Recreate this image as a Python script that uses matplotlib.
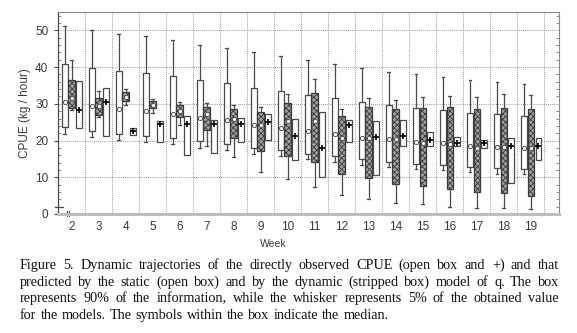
"""
Box plots of CPUE per week: observed vs static and dynamic q models.
"""

import matplotlib
matplotlib.use("Agg")
import matplotlib.pyplot as plt

# ---------------------------------------------------------
# Data
# ---------------------------------------------------------

weeks = [2, 3, 4, 5, 6, 7, 8, 9, 10, 11, 12, 13, 14, 15, 16, 17, 18, 19]

# static model (open box): whisker low, box low, median, box high, whisker high
static_wlo = [21.7, 21.0, 20.2, 19.6, 19.0, 18.1, 17.3, 16.4, 15.7, 15.0, 14.2, 13.3, 12.8, 12.2, 11.9, 11.3, 10.9, 10.8]
static_q1 = [23.7, 22.6, 21.7, 21.3, 20.8, 19.9, 19.0, 18.1, 17.3, 16.4, 15.7, 15.0, 14.2, 13.7, 13.3, 12.8, 12.6, 12.2]
static_med = [30.5, 29.4, 28.5, 28.1, 27.2, 26.1, 25.7, 24.3, 23.5, 22.6, 21.7, 20.8, 20.3, 19.5, 19.2, 18.4, 18.2, 17.9]
static_q3 = [40.9, 39.8, 39.0, 38.4, 37.6, 36.5, 35.7, 34.3, 33.5, 32.5, 31.6, 30.5, 29.7, 28.8, 28.3, 27.6, 27.2, 26.8]
static_whi = [51.1, 50.0, 49.1, 48.4, 47.4, 46.0, 45.3, 44.0, 42.9, 41.8, 40.9, 39.8, 38.7, 38.0, 37.4, 36.5, 35.9, 35.4]

# dynamic model (striped box)
dyn_wlo = [28.3, 26.5, 29.7, 27.6, 24.3, 18.4, 15.5, 11.5, 9.5, 7.3, 5.3, 4.0, 3.0, 2.6, 2.0, 1.5, 1.5, 1.3]
dyn_q1 = [28.8, 27.0, 30.7, 28.8, 26.3, 22.8, 20.6, 17.2, 15.7, 14.1, 10.9, 9.7, 8.2, 7.5, 6.8, 6.0, 5.6, 4.9]
dyn_med = [31.5, 29.5, 31.8, 29.7, 28.0, 27.2, 26.0, 24.3, 25.2, 25.4, 20.8, 20.8, 20.3, 19.3, 19.0, 18.1, 18.2, 17.9]
dyn_q3 = [36.5, 31.6, 33.2, 30.7, 29.7, 29.0, 28.5, 27.9, 30.3, 33.0, 26.8, 29.0, 28.5, 28.8, 29.0, 28.6, 28.8, 28.6]
dyn_whi = [42.0, 33.4, 34.0, 31.2, 30.5, 30.1, 29.6, 29.0, 32.7, 36.8, 28.5, 31.6, 31.0, 31.9, 32.1, 31.9, 32.7, 32.3]

# directly observed CPUE (open box and +)
obs_q1 = [23.4, 21.2, 21.5, 19.5, 16.2, 16.6, 19.5, 20.1, 14.6, 10.2, 19.5, 10.6, 18.6, 18.6, 18.4, 17.9, 8.4, 14.8]
obs_med = [28.3, 30.5, 22.6, 24.6, 24.6, 24.6, 24.6, 25.0, 21.2, 17.9, 24.3, 21.0, 21.2, 20.1, 19.3, 19.3, 18.6, 18.4]
obs_q3 = [36.1, 34.3, 23.5, 25.4, 26.6, 25.5, 26.1, 27.2, 25.8, 27.7, 25.7, 25.2, 25.5, 22.3, 21.0, 20.1, 20.8, 20.8]

caption_lines = [
    "Figure 5. Dynamic trajectories of the directly observed CPUE (open box and +) and that",
    "predicted by the static (open box) and by the dynamic (stripped box) model of q. The box",
    "represents 90% of the information, while the whisker represents 5% of the obtained value",
    "for the models. The symbols within the box indicate the median.",
]

# ---------------------------------------------------------
# Style
# ---------------------------------------------------------

plt.rcParams["font.family"] = "Liberation Sans"
plt.rcParams["hatch.linewidth"] = 0.6

EDGE = "#4a4a4a"
TXT = "#3a3a3a"

fig = plt.figure(figsize=(5.77, 3.33), dpi=100)
ax = fig.add_axes([58 / 577, 1 - 214 / 333, (559 - 58) / 577, (214 - 12) / 333])


def make_stats(wlo, q1, med, q3, whi):
    return [
        dict(whislo=a, q1=b, med=c, q3=d, whishi=e, fliers=[])
        for a, b, c, d, e in zip(wlo, q1, med, q3, whi)
    ]


pos_static = [w - 0.25 for w in weeks]
pos_dyn = [w + 0.0 for w in weeks]
pos_obs = [w + 0.28 for w in weeks]

line_kw = dict(color=EDGE, linewidth=0.9)

# static model
ax.bxp(
    make_stats(static_wlo, static_q1, static_med, static_q3, static_whi),
    positions=pos_static, widths=0.21, patch_artist=True, showfliers=False,
    boxprops=dict(facecolor="white", edgecolor=EDGE, linewidth=0.9),
    whiskerprops=line_kw, capprops=line_kw, medianprops=dict(linewidth=0),
    capwidths=0.1, manage_ticks=False,
)

# dynamic model
ax.bxp(
    make_stats(dyn_wlo, dyn_q1, dyn_med, dyn_q3, dyn_whi),
    positions=pos_dyn, widths=0.23, patch_artist=True, showfliers=False,
    boxprops=dict(facecolor="#a0a0a0", edgecolor="#3a3a3a", linewidth=0.9,
                  hatch="xxxxxx"),
    whiskerprops=line_kw, capprops=line_kw, medianprops=dict(linewidth=0),
    capwidths=0.1, manage_ticks=False,
)

# observed
ax.bxp(
    make_stats(obs_q1, obs_q1, obs_med, obs_q3, obs_q3),
    positions=pos_obs, widths=0.2, patch_artist=True, showfliers=False,
    showcaps=False, manage_ticks=False,
    boxprops=dict(facecolor="white", edgecolor=EDGE, linewidth=0.9),
    whiskerprops=dict(linewidth=0), medianprops=dict(linewidth=0),
)

# median symbols
ax.scatter(pos_static, static_med, s=9, marker="o", facecolor="white",
           edgecolor="#555555", linewidth=0.7, zorder=5)
ax.scatter(pos_dyn, dyn_med, s=9, marker="o", facecolor="white",
           edgecolor="#555555", linewidth=0.7, zorder=5)
ax.scatter(pos_obs, obs_med, s=14, marker="+", color="black",
           linewidth=1.2, zorder=5)

# small marks near the origin
ax.plot([1.38, 1.68], [1.8, 1.8], color=EDGE, linewidth=0.9, clip_on=False)
ax.plot([1.84, 1.84], [-0.6, 0.8], color=EDGE, linewidth=0.8, clip_on=False)
ax.plot([1.9, 1.9], [-0.6, 0.8], color=EDGE, linewidth=0.8, clip_on=False)

# ---------------------------------------------------------
# Axes
# ---------------------------------------------------------

ax.set_xlim(1.5, 20.05)
ax.set_ylim(0, 55)

ax.set_xticks(weeks)
ax.set_xticklabels([str(w) for w in weeks])
ax.set_xticks([w + 0.5 for w in weeks], minor=True)
ax.set_yticks([0, 10, 20, 30, 40, 50])
ax.set_yticks(range(0, 55, 2), minor=True)

ax.grid(True, which="major", axis="y", linestyle=(0, (1, 1.5)),
        color="#777777", linewidth=0.6)
ax.grid(True, which="minor", axis="x", linestyle=(0, (1, 1.5)),
        color="#777777", linewidth=0.6)

ax.tick_params(axis="x", which="both", length=0, pad=5,
               labelsize=8.5, labelcolor=TXT)
ax.tick_params(axis="y", which="major", direction="out", length=3,
               labelsize=8.5, labelcolor=TXT, color=EDGE, pad=4)
ax.tick_params(axis="y", which="minor", direction="in", length=2,
               color="#777777", right=True)

for side in ["top", "right"]:
    ax.spines[side].set_color("#888888")
    ax.spines[side].set_linewidth(0.8)
ax.spines["left"].set_color(EDGE)
ax.spines["left"].set_linewidth(0.9)
ax.spines["bottom"].set_color("#bdbdbd")
ax.spines["bottom"].set_linewidth(2.2)

ax.set_ylabel("CPUE (kg / hour)", fontsize=8.5, color=TXT, labelpad=3)
fig.text(273 / 577, 1 - 244 / 333, "Week", fontsize=7.5, color=TXT,
         ha="center", va="center")

# ---------------------------------------------------------
# Caption (justified)
# ---------------------------------------------------------

renderer = fig.canvas.get_renderer()
x_left = 20 / 577
x_right = 559 / 577
line_base = [269, 286, 302, 319]

for i, line in enumerate(caption_lines):
    y = 1 - line_base[i] / 333
    words = line.split(" ")
    texts = [
        fig.text(0, y, w, fontsize=10.2, family="Liberation Serif",
                 color="#111111", va="baseline", ha="left")
        for w in words
    ]
    widths = [
        t.get_window_extent(renderer).width / fig.bbox.width for t in texts
    ]
    if i < len(caption_lines) - 1:
        gap = (x_right - x_left - sum(widths)) / (len(words) - 1)
    else:
        gap = 4.0 / 577
    x = x_left
    for t, w in zip(texts, widths):
        t.set_x(x)
        x += w + gap

fig.savefig("out.png", dpi=100)
